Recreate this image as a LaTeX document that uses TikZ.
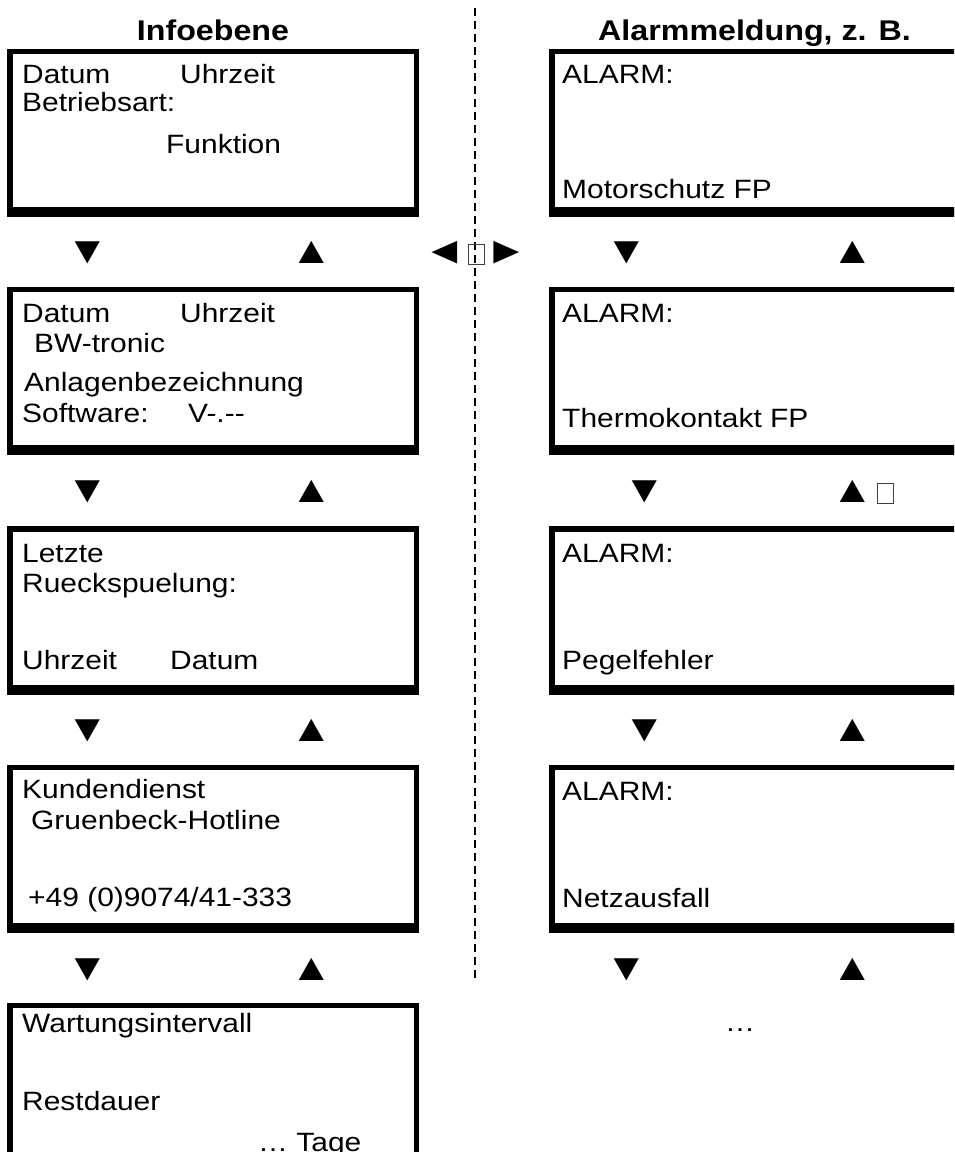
\documentclass[tikz,border=0pt]{standalone}
\usepackage{fontspec}
\setmainfont{Liberation Sans}[FakeStretch=1.13]
\tikzset{
  screen/.style={draw, line width=5.5pt, anchor=north west, inner sep=0, outer sep=0, minimum width=406.5pt, minimum height=160.5pt},
  rscreen/.style={screen, minimum width=430pt},
  txt/.style={anchor=base west, inner sep=0, font=\fontsize{26.5}{30}\selectfont},
  tri/.style={anchor=center, inner sep=0, font=\fontsize{38}{40}\selectfont},
  dots/.style={anchor=center, inner sep=0, font=\fontsize{26.5}{30}\selectfont},
  ttl/.style={anchor=base, inner sep=0, font=\bfseries\fontsize{28.5}{32}\selectfont},
  notdef/.style={draw=black!75, line width=1.2pt, inner sep=0, minimum width=16pt, minimum height=20pt},
  divider/.style={line width=2pt, dash pattern=on 8pt off 5pt},
  thickbottom/.style={line width=10pt}
}
\begin{document}
\begin{tikzpicture}[x=1pt,y=-1pt]
\useasboundingbox (0,0) rectangle (954,1152);
\clip (0,0) rectangle (954,1152);
\fill[white] (0,0) rectangle (954,1152);

% titles
\node[ttl] (t1) at (213,40) {Infoebene};
\node[ttl] (t2) at (754.5,40) {Alarmmeldung, z. B.};

% divider
\coordinate (dtop) at (475,8);
\coordinate (dbot) at (475,982);
\draw[divider] (dtop) -- (dbot);

% left screens
\foreach \n/\y in {1/51.5,2/289.5,3/529,4/767.5,5/1005.5}{
  \node[screen] (L\n) at (10,\y) {};
  \draw[thickbottom] ([xshift=-2.75pt]L\n.south west) -- ([xshift=2.75pt]L\n.south east);
}
% right screens
\foreach \n/\y in {1/51.5,2/289.5,3/529,4/767.5}{
  \node[rscreen] (R\n) at (552,\y) {};
  \draw[thickbottom] ([xshift=-2.75pt]R\n.south west) -- ([xshift=2.75pt]R\n.south east);
}

% left texts
\node[txt] (a1) at (22,83) {Datum};
\node[txt] (a2) at (180,83) {Uhrzeit};
\node[txt] (a3) at (22,111) {Betriebsart:};
\node[txt] (a4) at (166,153) {Funktion};

\node[txt] (b1) at (22,322) {Datum};
\node[txt] (b2) at (180,322) {Uhrzeit};
\node[txt] (b3) at (34,352) {BW-tronic};
\node[txt] (b4) at (24,391) {Anlagenbezeichnung};
\node[txt] (b5) at (22,422) {Software:};
\node[txt] (b6) at (188,422) {V-.-{}-};

\node[txt] (c1) at (22,562) {Letzte};
\node[txt] (c2) at (22,592) {Rueckspuelung:};
\node[txt] (c3) at (22,669) {Uhrzeit};
\node[txt] (c4) at (170,669) {Datum};

\node[txt] (d1) at (22,798) {Kundendienst};
\node[txt] (d2) at (31,829) {Gruenbeck-Hotline};
\node[txt] (d3) at (28,906) {+49 (0)9074/41-333};

\node[txt] (e1) at (22,1032) {Wartungsintervall};
\node[txt] (e2) at (22,1110) {Restdauer};
\node[txt] (e3) at (258,1151) {… Tage};

% right texts
\node[txt] (r1a) at (562,83) {ALARM:};
\node[txt] (r1b) at (562,198) {Motorschutz FP};
\node[txt] (r2a) at (562,322) {ALARM:};
\node[txt] (r2b) at (562,427) {Thermokontakt FP};
\node[txt] (r3a) at (562,562) {ALARM:};
\node[txt] (r3b) at (562,669) {Pegelfehler};
\node[txt] (r4a) at (562,800) {ALARM:};
\node[txt] (r4b) at (562,907) {Netzausfall};
\node[dots] (rdots) at (740,1030) {…};

% navigation triangles, left column
\foreach \n/\y in {1/252.5,2/491.5,3/730.5,4/969.5}{
  \node[tri] (ld\n) at (88,\y) {▼};
  \node[tri] (lu\n) at (312,\y) {▲};
}
% right column
\node[tri] (rd1) at (627,252.5) {▼};
\node[tri] (rd2) at (645,491.5) {▼};
\node[tri] (rd3) at (645,730.5) {▼};
\node[tri] (rd4) at (627,969.5) {▼};
\foreach \n/\y in {1/252.5,2/491.5,3/730.5,4/969.5}{
  \node[tri] (ru\n) at (853,\y) {▲};
}
\node[notdef] (nd2) at (885.5,493.5) {};

% centre switch
\node[tri] (sl) at (444.5,252.5) {◄};
\node[notdef] (nd1) at (476.5,254.5) {};
\node[tri] (sr) at (506.5,252.5) {►};
\end{tikzpicture}
\end{document}
